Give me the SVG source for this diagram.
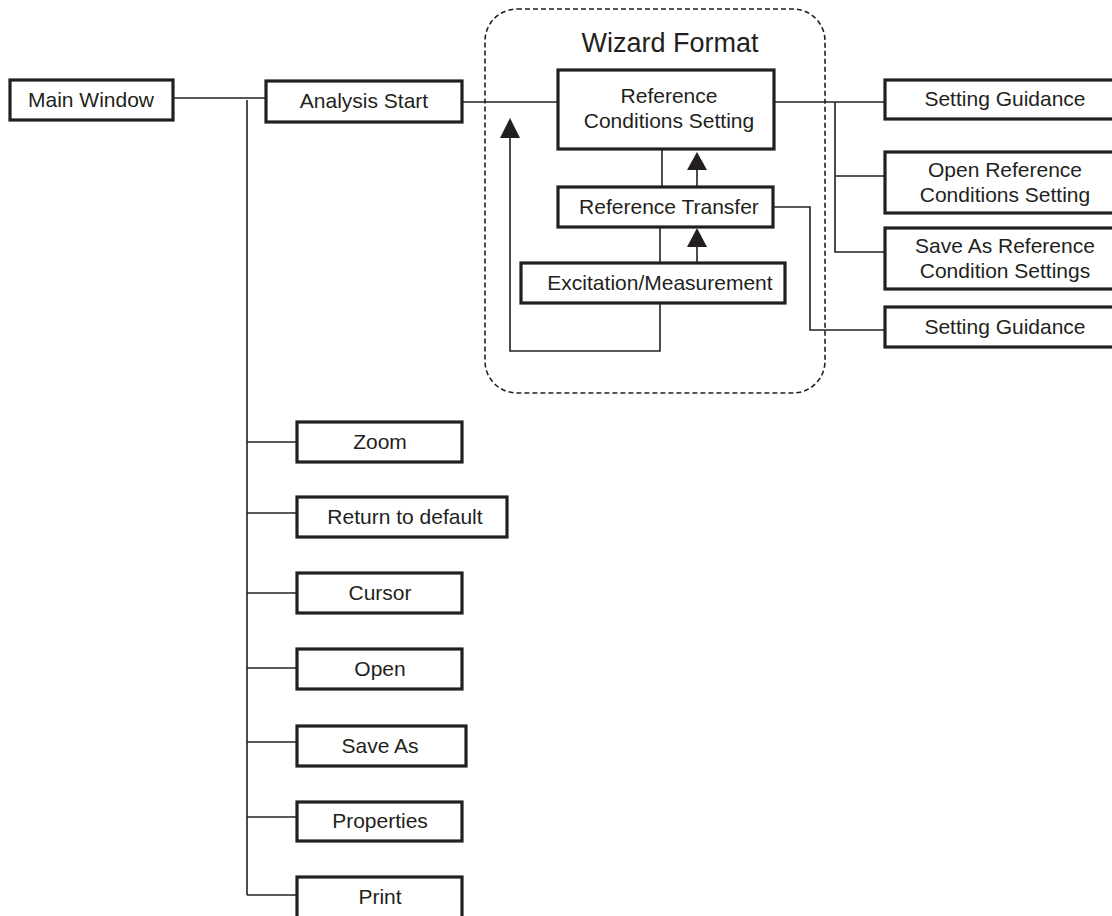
<svg xmlns="http://www.w3.org/2000/svg" width="1112" height="916" viewBox="0 0 1112 916">
  <style>
    .box { fill: #fff; stroke: #231f20; stroke-width: 3.2; }
    .lbl { font-family: "Liberation Sans", Arial, sans-serif; font-size: 21px; fill: #231f20; text-anchor: middle; }
    .title { font-family: "Liberation Sans", Arial, sans-serif; font-size: 27px; fill: #231f20; text-anchor: middle; }
    .wire { fill: none; stroke: #231f20; stroke-width: 1.6; }
    .frame { fill: none; stroke: #231f20; stroke-width: 1.6; stroke-dasharray: 5 3; }
    .head { fill: #231f20; }
  </style>

  <rect width="1112" height="916" fill="#fff"/>

  <!-- wizard frame -->
  <g id="wizard-frame">
    <rect class="frame" x="485" y="9" width="340" height="384" rx="32" ry="32"/>
    <text class="title" x="670" y="52">Wizard Format</text>
  </g>

  <!-- connectors -->
  <g id="connectors">
    <path class="wire" d="M173,98 H266"/>
    <path class="wire" d="M247,100 V895"/>
    <path class="wire" d="M462,102 H558"/>
    <path class="wire" d="M774,102 H885"/>
    <path class="wire" d="M835,102 V252 H885"/>
    <path class="wire" d="M835,176 H885"/>
    <path class="wire" d="M773,207 H810 V330 H885"/>
    <path class="wire" d="M662,149 V187"/>
    <path class="wire" d="M660,227 V263"/>
    <path class="wire" d="M660,303 V351 H510 V138"/>
    <path class="wire" d="M697,187 V170"/>
    <path class="wire" d="M697,263 V247"/>
    <path class="head" d="M510,118 L520,138 L500,138 Z"/>
    <path class="head" d="M697,152 L707,170 L687,170 Z"/>
    <path class="head" d="M697,228 L707,247 L687,247 Z"/>
    <path class="wire" d="M247,442 H297"/>
    <path class="wire" d="M247,513 H297"/>
    <path class="wire" d="M247,593 H297"/>
    <path class="wire" d="M247,668 H297"/>
    <path class="wire" d="M247,742 H297"/>
    <path class="wire" d="M247,817 H297"/>
    <path class="wire" d="M247,895 H297"/>
  </g>

  <g id="main-window">
    <rect class="box" x="10" y="80" width="163" height="40"/>
    <text class="lbl" x="91" y="107">Main Window</text>
  </g>
  <g id="analysis-start">
    <rect class="box" x="266" y="81" width="196" height="41"/>
    <text class="lbl" x="364" y="108">Analysis Start</text>
  </g>
  <g id="reference-conditions-setting">
    <rect class="box" x="558" y="70" width="216" height="79"/>
    <text class="lbl" x="669" y="103">Reference</text>
    <text class="lbl" x="669" y="128">Conditions Setting</text>
  </g>
  <g id="reference-transfer">
    <rect class="box" x="558" y="187" width="215" height="40"/>
    <text class="lbl" x="669" y="214">Reference Transfer</text>
  </g>
  <g id="excitation-measurement">
    <rect class="box" x="521" y="263" width="264" height="40"/>
    <text class="lbl" x="660" y="290">Excitation/Measurement</text>
  </g>
  <g id="setting-guidance-1">
    <rect class="box" x="885" y="80" width="240" height="39"/>
    <text class="lbl" x="1005" y="106">Setting Guidance</text>
  </g>
  <g id="open-reference-conditions-setting">
    <rect class="box" x="885" y="152" width="240" height="61"/>
    <text class="lbl" x="1005" y="177">Open Reference</text>
    <text class="lbl" x="1005" y="202">Conditions Setting</text>
  </g>
  <g id="save-as-reference-condition-settings">
    <rect class="box" x="885" y="228" width="240" height="61"/>
    <text class="lbl" x="1005" y="253">Save As Reference</text>
    <text class="lbl" x="1005" y="278">Condition Settings</text>
  </g>
  <g id="setting-guidance-2">
    <rect class="box" x="885" y="307" width="240" height="40"/>
    <text class="lbl" x="1005" y="334">Setting Guidance</text>
  </g>

  <g id="zoom">
    <rect class="box" x="297" y="422" width="165" height="40"/>
    <text class="lbl" x="380" y="449">Zoom</text>
  </g>
  <g id="return-to-default">
    <rect class="box" x="297" y="497" width="210" height="40"/>
    <text class="lbl" x="405" y="524">Return to default</text>
  </g>
  <g id="cursor">
    <rect class="box" x="297" y="573" width="165" height="40"/>
    <text class="lbl" x="380" y="600">Cursor</text>
  </g>
  <g id="open">
    <rect class="box" x="297" y="649" width="165" height="40"/>
    <text class="lbl" x="380" y="676">Open</text>
  </g>
  <g id="save-as">
    <rect class="box" x="297" y="726" width="169" height="40"/>
    <text class="lbl" x="380" y="753">Save As</text>
  </g>
  <g id="properties">
    <rect class="box" x="297" y="802" width="165" height="39"/>
    <text class="lbl" x="380" y="828">Properties</text>
  </g>
  <g id="print">
    <rect class="box" x="297" y="877" width="165" height="45"/>
    <text class="lbl" x="380" y="904">Print</text>
  </g>
</svg>
